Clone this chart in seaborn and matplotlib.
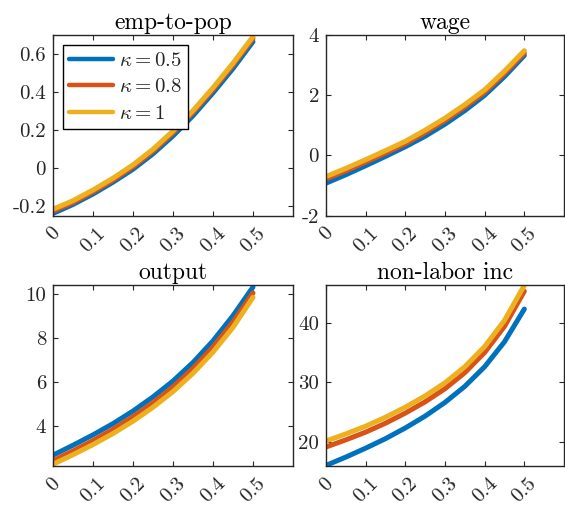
import pandas as pd
import seaborn as sns
from matplotlib import pyplot as plt

sns.set_style("ticks")
plt.rcParams['font.family'] = 'serif'
plt.rcParams['font.serif'] = ['cmr10']
plt.rcParams['mathtext.fontset'] = 'cm'
plt.rcParams['axes.unicode_minus'] = False
plt.rcParams['axes.formatter.use_mathtext'] = False

# x grid (shared by every panel)
x = [0, 0.05, 0.1, 0.15, 0.2, 0.25, 0.3, 0.35, 0.4, 0.45, 0.5]
kappas = ['$\\kappa = 0.5$', '$\\kappa = 0.8$', '$\\kappa = 1$']

# emp-to-pop
emp_k05 = [-0.237, -0.190, -0.135, -0.073, -0.005, 0.076, 0.170, 0.276, 0.396, 0.524, 0.665]
emp_k08 = [-0.225, -0.180, -0.124, -0.062, 0.008, 0.090, 0.186, 0.293, 0.413, 0.542, 0.682]
emp_k1 = [-0.215, -0.170, -0.114, -0.052, 0.018, 0.100, 0.196, 0.303, 0.423, 0.552, 0.692]

# wage
wage_k05 = [-0.92, -0.64, -0.34, -0.03, 0.29, 0.64, 1.04, 1.49, 2.00, 2.62, 3.32]
wage_k08 = [-0.78, -0.51, -0.22, 0.08, 0.39, 0.76, 1.16, 1.61, 2.10, 2.72, 3.40]
wage_k1 = [-0.70, -0.43, -0.14, 0.16, 0.47, 0.84, 1.24, 1.69, 2.18, 2.80, 3.48]

# output
out_k05 = [2.70, 3.15, 3.62, 4.13, 4.70, 5.34, 6.06, 6.90, 7.88, 9.02, 10.32]
out_k08 = [2.45, 2.89, 3.36, 3.87, 4.44, 5.07, 5.79, 6.63, 7.60, 8.73, 10.05]
out_k1 = [2.29, 2.72, 3.18, 3.68, 4.24, 4.87, 5.58, 6.41, 7.37, 8.49, 9.85]

# non-labor inc
inc_k05 = [16.0, 17.4, 18.9, 20.5, 22.3, 24.3, 26.6, 29.3, 32.6, 36.8, 42.3]
inc_k08 = [19.1, 20.3, 21.6, 23.1, 24.8, 26.7, 28.9, 31.6, 35.0, 39.4, 45.3]
inc_k1 = [20.1, 21.3, 22.6, 24.1, 25.8, 27.7, 29.9, 32.6, 36.0, 40.4, 46.3]

titles = ['emp-to-pop', 'wage', 'output', 'non-labor inc']
series = [[emp_k05, emp_k08, emp_k1],
          [wage_k05, wage_k08, wage_k1],
          [out_k05, out_k08, out_k1],
          [inc_k05, inc_k08, inc_k1]]
ylims = [(-0.249, 0.70), (-2, 4), (2.21, 10.41), (15.9, 46.35)]
yticks = [[-0.2, 0, 0.2, 0.4, 0.6], [-2, 0, 2, 4], [4, 6, 8, 10], [20, 30, 40]]
yticklabels = [['-0.2', '0', '0.2', '0.4', '0.6'], ['-2', '0', '2', '4'],
               ['4', '6', '8', '10'], ['20', '30', '40']]
xticks = [0, 0.1, 0.2, 0.3, 0.4, 0.5]
xticklabels = ['0', '0.1', '0.2', '0.3', '0.4', '0.5']

colors = [(0, 0.447, 0.741), (0.85, 0.325, 0.098), (0.929, 0.694, 0.125)]
dark = (0.15, 0.15, 0.15)

fig = plt.figure(figsize=(5.65, 5.07), dpi=100)
positions = [[53 / 565, 1 - 215.7 / 507, 240 / 565, 180.7 / 507],
             [326 / 565, 1 - 215.7 / 507, 238 / 565, 180.7 / 507],
             [53 / 565, 1 - 466 / 507, 240 / 565, 181 / 507],
             [326 / 565, 1 - 466 / 507, 238 / 565, 181 / 507]]

for i in range(4):
    ax = fig.add_axes(positions[i])
    rows = []
    for k in range(3):
        for xv, yv in zip(x, series[i][k]):
            rows.append({'x': xv, 'y': yv, 'kappa': kappas[k]})
    df = pd.DataFrame(rows)
    sns.lineplot(data=df, x='x', y='y', hue='kappa', palette=colors,
                 linewidth=3.6, ax=ax, legend=(i == 0))
    ax.set_xlim(0, 0.6)
    ax.set_ylim(*ylims[i])
    ax.set_xticks(xticks)
    ax.set_xticklabels(xticklabels, rotation=45)
    ax.set_yticks(yticks[i])
    ax.set_yticklabels(yticklabels[i])
    ax.set_xlabel('')
    ax.set_ylabel('')
    ax.set_title(titles[i], fontsize=17, color='black', pad=4)
    ax.tick_params(direction='in', length=3.5, width=0.8, top=True, right=True,
                   labelsize=15, colors=dark, pad=5)
    ax.tick_params(axis='x', pad=6)
    for sp in ax.spines.values():
        sp.set_visible(True)
        sp.set_color(dark)
        sp.set_linewidth(1.0)
    if i == 0:
        leg = ax.legend(loc='upper left', fontsize=15, frameon=True, fancybox=False,
                        framealpha=1, edgecolor='black', handlelength=2.1,
                        borderaxespad=0.5, borderpad=0.28, labelspacing=0.38,
                        handletextpad=0.3)
        leg.get_frame().set_linewidth(1.0)
        for line in leg.get_lines():
            line.set_linewidth(3.2)

plt.savefig('out.png', dpi=100)
